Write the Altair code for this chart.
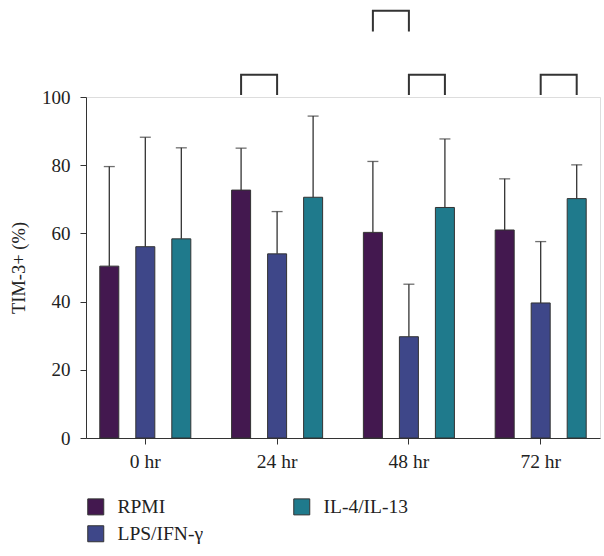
import altair as alt
import pandas as pd

groups = ["0 hr", "24 hr", "48 hr", "72 hr"]
series = ["RPMI", "LPS/IFN-γ", "IL-4/IL-13"]
colors = {"RPMI": "#43184f", "LPS/IFN-γ": "#3e4789", "IL-4/IL-13": "#1f7a8c"}

rpmi_mean = [50.4, 72.7, 60.3, 61.0]
lps_mean = [56.1, 54.0, 29.7, 39.6]
il4_mean = [58.4, 70.6, 67.6, 70.2]

rpmi_upper = [79.6, 85.0, 81.1, 76.0]
lps_upper = [88.2, 66.4, 45.1, 57.6]
il4_upper = [85.1, 94.4, 87.7, 80.1]

# significance brackets: group, left series, right series, leg bottom, top
brackets = [
    ("24 hr", "RPMI", "LPS/IFN-γ", 100.6, 106.5),
    ("48 hr", "RPMI", "LPS/IFN-γ", 119.2, 125.3),
    ("48 hr", "LPS/IFN-γ", "IL-4/IL-13", 100.6, 106.5),
    ("72 hr", "LPS/IFN-γ", "IL-4/IL-13", 100.6, 106.5),
]

means = {"RPMI": rpmi_mean, "LPS/IFN-γ": lps_mean, "IL-4/IL-13": il4_mean}
uppers = {"RPMI": rpmi_upper, "LPS/IFN-γ": lps_upper, "IL-4/IL-13": il4_upper}

rows = []
for s in series:
    for g, m, u in zip(groups, means[s], uppers[s]):
        rows.append({"group": g, "series": s, "value": m, "upper": u})
df = pd.DataFrame(rows)

brows = []
for i, (g, a, b, lo, hi) in enumerate(brackets):
    brows += [
        {"bid": i, "pt": 0, "group": g, "series": a, "y": lo},
        {"bid": i, "pt": 1, "group": g, "series": a, "y": hi},
        {"bid": i, "pt": 2, "group": g, "series": b, "y": hi},
        {"bid": i, "pt": 3, "group": g, "series": b, "y": lo},
    ]
bdf = pd.DataFrame(brows)

FONT = "Liberation Serif"
DARK = "#333333"
TXT = "#222222"

x_enc = alt.X(
    "group:N",
    sort=groups,
    scale=alt.Scale(domain=groups, paddingInner=0.1, paddingOuter=0.0),
    axis=alt.Axis(
        title=None, labelAngle=0, tickSize=6, labelPadding=8, domainColor=DARK,
        tickColor=DARK, labelFont=FONT, labelFontSize=19.5, labelColor=TXT,
    ),
)
xo_enc = alt.XOffset(
    "series:N", sort=series,
    scale=alt.Scale(domain=series, paddingInner=0.472, paddingOuter=0.383),
)
y_scale = alt.Scale(domain=[0, 100], nice=False)

bars = alt.Chart(df).mark_bar(stroke=DARK, strokeWidth=1).encode(
    x=x_enc,
    xOffset=xo_enc,
    y=alt.Y(
        "value:Q", scale=y_scale,
        axis=alt.Axis(
            title="TIM-3+ (%)", values=[0, 20, 40, 60, 80, 100], grid=False,
            tickSize=6, labelPadding=10, domainColor=DARK, tickColor=DARK,
            labelFont=FONT, labelFontSize=19, labelColor=TXT,
            titleFont=FONT, titleFontSize=18.5, titleFontWeight="normal",
            titleColor=TXT, titlePadding=13,
        ),
    ),
    color=alt.Color(
        "series:N",
        scale=alt.Scale(domain=series, range=[colors[s] for s in series]),
        legend=alt.Legend(
            title=None, orient="none", legendX=0, legendY=400, columns=2,
            columnPadding=87, rowPadding=6, symbolType="square", symbolSize=256,
            symbolStrokeColor=DARK, symbolStrokeWidth=1, labelFont=FONT,
            labelFontSize=19.5, labelColor=TXT, labelOffset=12, padding=0,
        ),
    ),
)

err = alt.Chart(df).mark_rule(color=DARK, strokeWidth=1.3).encode(
    x=x_enc, xOffset=xo_enc, y=alt.Y("value:Q", scale=y_scale), y2="upper:Q"
)
caps = alt.Chart(df).mark_tick(color=DARK, thickness=1.3, size=11).encode(
    x=x_enc, xOffset=xo_enc, y=alt.Y("upper:Q", scale=y_scale)
)
brk = alt.Chart(bdf).mark_line(color=DARK, strokeWidth=2, clip=False).encode(
    x=x_enc, xOffset=xo_enc, y=alt.Y("y:Q", scale=y_scale),
    detail="bid:N", order=alt.Order("pt:Q"),
)

chart = alt.layer(bars, err, caps, brk).properties(
    width=514, height=341,
    autosize=alt.AutoSizeParams(type="none"),
    padding={"left": 86, "top": 97, "right": 4, "bottom": 118},
).configure_view(stroke=None).configure(background="white")

chart.save("out.html", embed_options={"renderer": "svg", "actions": False})
